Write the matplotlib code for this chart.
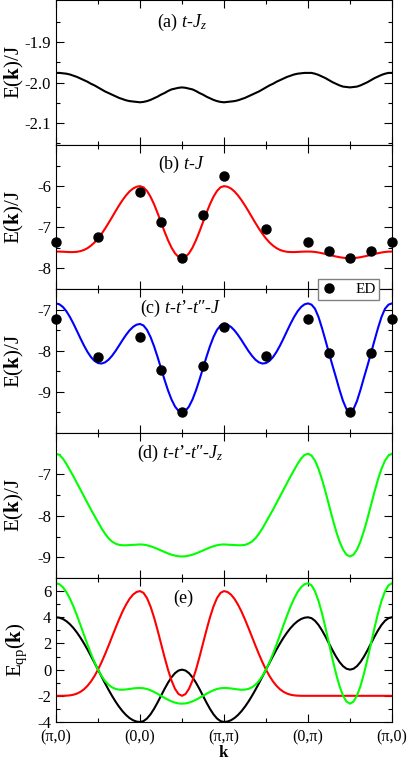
import numpy as np
import matplotlib
matplotlib.use("Agg")
import matplotlib.pyplot as plt
from matplotlib.ticker import FixedLocator, MultipleLocator

plt.rcParams['font.family'] = 'Liberation Serif'
plt.rcParams['mathtext.fontset'] = 'custom'
plt.rcParams['mathtext.rm'] = 'Liberation Serif'
plt.rcParams['mathtext.it'] = 'Liberation Serif:italic'
plt.rcParams['mathtext.bf'] = 'Liberation Serif:bold'
plt.rcParams['axes.unicode_minus'] = False

# path (pi,0) -> (0,0) -> (pi,pi) -> (0,pi) -> (pi,0), 24 samples per segment
k_path = np.linspace(0, 4, 97)
k_labels = ['(π,0)', '(0,0)', '(π,π)', '(0,π)', '(π,0)']

# (a) t-Jz
E_a = [-1.976, -1.976, -1.977, -1.978, -1.980, -1.983, -1.986, -1.990, -1.994, -1.998, -2.003, -2.007, -2.012,
       -2.017, -2.022, -2.026, -2.030, -2.034, -2.038, -2.041, -2.044, -2.046, -2.047, -2.048, -2.049,
       -2.048, -2.046, -2.043, -2.039, -2.035, -2.030, -2.026, -2.021, -2.017, -2.015, -2.013, -2.012,
       -2.013, -2.015, -2.017, -2.021, -2.026, -2.030, -2.035, -2.039, -2.043, -2.046, -2.048, -2.049,
       -2.048, -2.047, -2.046, -2.044, -2.041, -2.038, -2.034, -2.030, -2.026, -2.022, -2.017, -2.012,
       -2.007, -2.003, -1.998, -1.994, -1.990, -1.986, -1.983, -1.980, -1.978, -1.977, -1.976, -1.976,
       -1.976, -1.978, -1.981, -1.985, -1.989, -1.994, -1.999, -2.003, -2.007, -2.010, -2.011, -2.012,
       -2.011, -2.010, -2.007, -2.003, -1.999, -1.994, -1.989, -1.985, -1.981, -1.978, -1.976, -1.976]

# (b) t-J
E_b = [-7.590, -7.591, -7.594, -7.599, -7.603, -7.602, -7.596, -7.579, -7.551, -7.507, -7.446, -7.368, -7.273,
       -7.161, -7.035, -6.898, -6.756, -6.611, -6.471, -6.341, -6.226, -6.130, -6.059, -6.015, -6.000,
       -6.029, -6.117, -6.256, -6.437, -6.648, -6.875, -7.102, -7.313, -7.494, -7.633, -7.721, -7.751,
       -7.721, -7.633, -7.494, -7.313, -7.102, -6.875, -6.648, -6.437, -6.256, -6.117, -6.029, -6.000,
       -6.015, -6.059, -6.130, -6.226, -6.341, -6.471, -6.611, -6.756, -6.898, -7.035, -7.161, -7.273,
       -7.368, -7.446, -7.507, -7.551, -7.579, -7.596, -7.602, -7.603, -7.599, -7.594, -7.591, -7.590,
       -7.592, -7.600, -7.613, -7.630, -7.649, -7.670, -7.691, -7.710, -7.727, -7.740, -7.748, -7.751,
       -7.748, -7.740, -7.727, -7.710, -7.691, -7.670, -7.649, -7.630, -7.613, -7.600, -7.592, -7.590]

# (c) t-t'-t''-J
E_c = [-6.850, -6.873, -6.939, -7.045, -7.184, -7.346, -7.523, -7.703, -7.875, -8.029, -8.155, -8.247, -8.300,
       -8.312, -8.284, -8.220, -8.125, -8.008, -7.877, -7.743, -7.617, -7.507, -7.422, -7.368, -7.350,
       -7.387, -7.494, -7.665, -7.888, -8.147, -8.425, -8.703, -8.963, -9.185, -9.356, -9.463, -9.500,
       -9.463, -9.356, -9.185, -8.963, -8.703, -8.425, -8.147, -7.888, -7.665, -7.494, -7.387, -7.350,
       -7.368, -7.422, -7.507, -7.617, -7.743, -7.877, -8.008, -8.125, -8.220, -8.284, -8.312, -8.300,
       -8.247, -8.155, -8.029, -7.875, -7.703, -7.523, -7.346, -7.184, -7.045, -6.939, -6.873, -6.850,
       -6.880, -6.980, -7.180, -7.450, -7.750, -8.060, -8.360, -8.650, -8.950, -9.220, -9.420, -9.500,
       -9.420, -9.220, -8.950, -8.650, -8.360, -8.060, -7.750, -7.450, -7.180, -6.980, -6.880, -6.850]

# (d) t-t'-t''-Jz
E_d = [-6.500, -6.530, -6.620, -6.750, -6.900, -7.050, -7.210, -7.370, -7.530, -7.690, -7.850, -8.000, -8.150,
       -8.300, -8.430, -8.540, -8.620, -8.670, -8.700, -8.710, -8.710, -8.705, -8.700, -8.695, -8.690,
       -8.695, -8.710, -8.733, -8.763, -8.798, -8.835, -8.872, -8.907, -8.937, -8.960, -8.975, -8.980,
       -8.975, -8.960, -8.937, -8.907, -8.872, -8.835, -8.798, -8.763, -8.733, -8.710, -8.695, -8.690,
       -8.695, -8.700, -8.705, -8.710, -8.710, -8.700, -8.670, -8.620, -8.540, -8.430, -8.300, -8.150,
       -8.000, -7.850, -7.690, -7.530, -7.370, -7.210, -7.050, -6.900, -6.750, -6.620, -6.530, -6.500,
       -6.543, -6.667, -6.864, -7.120, -7.419, -7.740, -8.061, -8.360, -8.617, -8.813, -8.937, -8.980,
       -8.937, -8.813, -8.617, -8.360, -8.061, -7.740, -7.419, -7.120, -6.864, -6.667, -6.543, -6.500]

# (e) quasiparticle dispersions
Eqp_black = [4, 3.966, 3.864, 3.696, 3.464, 3.173, 2.828, 2.435, 2, 1.531, 1.035, 0.522, 0,
             -0.522, -1.035, -1.531, -2, -2.435, -2.828, -3.173, -3.464, -3.696, -3.864, -3.966, -4,
             -3.932, -3.732, -3.414, -3, -2.518, -2, -1.482, -1, -0.586, -0.268, -0.068, 0,
             -0.068, -0.268, -0.586, -1, -1.482, -2, -2.518, -3, -3.414, -3.732, -3.932, -4,
             -3.966, -3.864, -3.696, -3.464, -3.173, -2.828, -2.435, -2, -1.531, -1.035, -0.522, 0,
             0.522, 1.035, 1.531, 2, 2.435, 2.828, 3.173, 3.464, 3.696, 3.864, 3.966, 4,
             3.932, 3.732, 3.414, 3, 2.518, 2, 1.482, 1, 0.586, 0.268, 0.068, 0,
             0.068, 0.268, 0.586, 1, 1.482, 2, 2.518, 3, 3.414, 3.732, 3.932, 4]
Eqp_red = [-2, -2.000, -1.998, -1.988, -1.964, -1.915, -1.828, -1.694, -1.5, -1.238, -0.901, -0.488, 0,
           0.556, 1.169, 1.824, 2.5, 3.176, 3.828, 4.432, 4.964, 5.403, 5.730, 5.932, 6,
           5.864, 5.464, 4.828, 4, 3.035, 2, 0.965, 0, -0.828, -1.464, -1.864, -2,
           -1.864, -1.464, -0.828, 0, 0.965, 2, 3.035, 4, 4.828, 5.464, 5.864, 6,
           5.932, 5.730, 5.403, 4.964, 4.432, 3.828, 3.176, 2.5, 1.824, 1.169, 0.556, 0,
           -0.488, -0.901, -1.238, -1.5, -1.694, -1.828, -1.915, -1.964, -1.988, -1.998, -2.000, -2,
           -2, -2, -2, -2, -2, -2, -2, -2, -2, -2, -2, -2,
           -2, -2, -2, -2, -2, -2, -2, -2, -2, -2, -2, -2]
Eqp_green = [6.6, 6.522, 6.290, 5.915, 5.414, 4.810, 4.128, 3.399, 2.65, 1.912, 1.210, 0.566, 0,
             -0.478, -0.861, -1.150, -1.35, -1.472, -1.528, -1.537, -1.514, -1.476, -1.438, -1.410, -1.4,
             -1.421, -1.480, -1.576, -1.7, -1.845, -2.0, -2.155, -2.3, -2.424, -2.520, -2.580, -2.6,
             -2.580, -2.520, -2.424, -2.3, -2.155, -2.0, -1.845, -1.7, -1.576, -1.480, -1.421, -1.4,
             -1.410, -1.438, -1.476, -1.514, -1.537, -1.528, -1.472, -1.35, -1.150, -0.861, -0.478, 0,
             0.566, 1.210, 1.912, 2.65, 3.399, 4.128, 4.810, 5.414, 5.915, 6.290, 6.522, 6.6,
             6.443, 5.984, 5.253, 4.3, 3.191, 2.0, 0.809, -0.3, -1.253, -1.984, -2.443, -2.6,
             -2.443, -1.984, -1.253, -0.3, 0.809, 2.0, 3.191, 4.3, 5.253, 5.984, 6.443, 6.6]

# exact diagonalization points
ed_k = [0, 0.5, 1, 1.25, 1.5, 1.75, 2, 2.5, 3, 3.25, 3.5, 3.75, 4]
ed_b = [-7.35, -7.23, -6.14, -6.87, -7.75, -6.69, -5.75, -7.05, -7.35, -7.57, -7.75, -7.57, -7.35]
ed_c = [-7.24, -8.16, -7.66, -8.48, -9.49, -8.38, -7.42, -8.12, -7.23, -8.06, -9.49, -8.06, -7.24]

W, H = 411, 762
fig = plt.figure(figsize=(W / 100, H / 100), dpi=100)
bounds = [0, 145, 289, 433, 578, 722]
left, right = 56, 392

axes = []
for i in range(5):
    ax = fig.add_axes([left / W, 1 - bounds[i + 1] / H, (right - left) / W,
                       (bounds[i + 1] - bounds[i]) / H])
    axes.append(ax)

lw = 1.5
axes[0].plot(k_path, E_a, color='black', lw=lw)
axes[1].plot(k_path, E_b, color='red', lw=lw)
axes[1].plot(ed_k, ed_b, 'o', color='black', ms=6.5, clip_on=False, zorder=5)
axes[2].plot(k_path, E_c, color='blue', lw=lw)
ed_line, = axes[2].plot(ed_k, ed_c, 'o', color='black', ms=6.5, clip_on=False, zorder=5)
axes[3].plot(k_path, E_d, color='#00ff00', lw=lw)
axes[4].plot(k_path, Eqp_black, color='black', lw=lw)
axes[4].plot(k_path, Eqp_red, color='red', lw=lw)
axes[4].plot(k_path, Eqp_green, color='#00ff00', lw=lw)

ylims = [(-2.155, -1.795), (-8.5, -5.0), (-10, -6.5), (-9.5, -6.0), (-4, 7)]
majors = [[-2.1, -2.0, -1.9], [-8, -7, -6], [-9, -8, -7], [-9, -8, -7], [-4, -2, 0, 2, 4, 6]]
minors = [[-2.15, -2.05, -1.95, -1.85], [-8.5, -7.5, -6.5, -5.5], [-9.5, -8.5, -7.5],
          [-9.5, -8.5, -7.5, -6.5], [-3, -1, 1, 3, 5]]
fmts = ['{:.1f}', '{:.0f}', '{:.0f}', '{:.0f}', '{:.0f}']
titles = [r'(a) $t$-$J_z$', r'(b) $t$-$J$', r'(c) $t$-$t$’-$t$″-$J$',
          r'(d) $t$-$t$’-$t$″-$J_z$', '(e)']
title_pos = [(0.30, 0.814), (0.304, 0.833), (0.25, 0.833), (0.241, 0.828), (0.348, 0.826)]

for i, ax in enumerate(axes):
    ax.set_xlim(0, 4)
    ax.set_ylim(*ylims[i])
    ax.yaxis.set_major_locator(FixedLocator(majors[i]))
    ax.yaxis.set_minor_locator(FixedLocator(minors[i]))
    ax.set_yticklabels([fmts[i].format(v) for v in majors[i]])
    ax.xaxis.set_major_locator(FixedLocator([0, 1, 2, 3, 4]))
    ax.xaxis.set_minor_locator(MultipleLocator(0.5))
    ax.tick_params(which='both', direction='in', top=True, right=True, width=0.8,
                   labelsize=12)
    ax.tick_params(which='major', length=5.8)
    ax.tick_params(which='minor', length=3.2)
    ax.tick_params(axis='x', pad=5.5, labelsize=11.5)
    for sp in ax.spines.values():
        sp.set_linewidth(0.8)
    if i < 4:
        ax.set_xticklabels([])
        ax.set_ylabel(r'E($\mathbf{k}$)/J', fontsize=15)
        ax.yaxis.set_label_coords(-0.09, 0.5)
    ax.text(title_pos[i][0], title_pos[i][1], titles[i], transform=ax.transAxes,
            ha='left', va='baseline', fontsize=13)

axes[4].set_xticklabels(k_labels)
axes[4].set_xlabel(r'$\mathbf{k}$', fontsize=12, va='bottom')
axes[4].xaxis.set_label_coords(0.5, -0.268)
axes[4].set_ylabel(r'E$_{\mathrm{qp}}$($\mathbf{k}$)', fontsize=15)
axes[4].yaxis.set_label_coords(-0.08, 0.5)

fig.legend(handles=[ed_line], labels=['ED'], loc='center',
           bbox_to_anchor=(348.5 / W, 1 - 289.5 / H), fontsize=11, fancybox=False,
           edgecolor='#808080', framealpha=1, handlelength=1.0, handletextpad=1.2,
           borderpad=0.25, borderaxespad=0)

fig.savefig('out.png', dpi=100)
